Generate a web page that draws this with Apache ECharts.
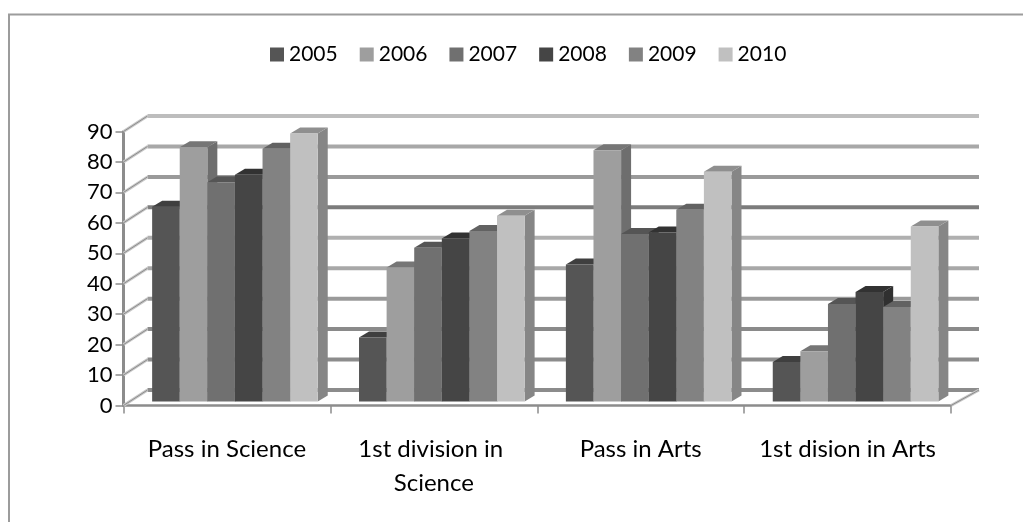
<!DOCTYPE html>
<html>
<head>
<meta charset="utf-8">
<style>
html, body { margin: 0; padding: 0; background: #fff; }
#chart { width: 1023px; height: 522px; }
</style>
<script src="https://cdn.jsdelivr.net/npm/echarts@6/dist/echarts.min.js"></script>
</head>
<body>
<div id="chart"></div>
<script>
var categories = ['Pass in Science', '1st division in Science', 'Pass in Arts', '1st dision in Arts'];
var years = ['2005', '2006', '2007', '2008', '2009', '2010'];
var v2005 = [64, 21, 45, 13];
var v2006 = [83.5, 44, 82.5, 16.5];
var v2007 = [72, 50.5, 55, 32];
var v2008 = [74.5, 53.5, 55.5, 36];
var v2009 = [83, 56, 63, 31];
var v2010 = [88, 61, 75.5, 57.5];
var yTicks = [0, 10, 20, 30, 40, 50, 60, 70, 80, 90];

var values = [v2005, v2006, v2007, v2008, v2009, v2010];
var colors = ['#555555', '#9e9e9e', '#707070', '#454545', '#828282', '#c0c0c0'];
var sideColors = ['#3c3c3c', '#6e6e6e', '#505050', '#303030', '#5c5c5c', '#868686'];
var topColors = ['#3f3f3f', '#767676', '#555555', '#323232', '#626262', '#8f8f8f'];
var gridTones = ['#8c8c8c', '#8c8c8c', '#8a8a8a', '#9a9a9a', '#a8a8a8', '#b0b0b0', '#7c7c7c', '#9a9a9a', '#a8a8a8', '#bdbdbd'];

var wallDx = 24, wallDy = -15.5;   // shift of the back wall
var wallExtra = 4;                 // back wall runs a bit past the front axis
var barDx = 8, barDy = -4;         // bars stand a little inside the floor
var depthDx = 10, depthDy = -6;
var barW = 27.6;

var chart = echarts.init(document.getElementById('chart'));

function renderWall(params, api) {
    var v = api.value(0);
    var i = params.dataIndex;
    var p = api.coord([0, v]);
    var size = api.size([1, 0]);
    var left = p[0] - size[0] / 2;
    var right = left + size[0] * categories.length;
    var y = p[1];
    var tone = gridTones[i];
    var children = [{
        type: 'polyline',
        shape: { points: [[left + wallDx, y + wallDy], [right + wallDx + wallExtra, y + wallDy]] },
        style: { stroke: tone, lineWidth: 4, fill: null }
    }, {
        type: 'polyline',
        shape: { points: [[left, y], [left + wallDx, y + wallDy]] },
        style: { stroke: '#c8c8c8', lineWidth: 3, fill: null }
    }, {
        type: 'polyline',
        shape: { points: [[left, y], [left + wallDx, y + wallDy]] },
        style: { stroke: '#8c8c8c', lineWidth: 1, fill: null }
    }];
    // floor edge on the right
    if (v === 0) {
        children.push({
            type: 'polyline',
            shape: { points: [[right, y], [right + wallDx + wallExtra, y + wallDy]] },
            style: { stroke: '#c8c8c8', lineWidth: 3, fill: null }
        }, {
            type: 'polyline',
            shape: { points: [[right, y], [right + wallDx + wallExtra, y + wallDy]] },
            style: { stroke: '#8c8c8c', lineWidth: 1, fill: null }
        });
    }
    return { type: 'group', children: children };
}

function renderBar(s) {
    return function (params, api) {
        var idx = api.value(0);
        var top = api.coord([idx, api.value(1)]);
        var base = api.coord([idx, 0]);
        var x = top[0] + (s - 3) * barW + barDx;
        var yT = top[1] + barDy;
        var yB = base[1] + barDy;
        return {
            type: 'group',
            children: [{
                type: 'polygon',
                shape: { points: [[x + barW, yT], [x + barW + depthDx, yT + depthDy], [x + barW + depthDx, yB + depthDy], [x + barW, yB]] },
                style: { fill: sideColors[s] }
            }, {
                type: 'polygon',
                shape: { points: [[x, yT], [x + depthDx, yT + depthDy], [x + barW + depthDx, yT + depthDy], [x + barW, yT]] },
                style: { fill: topColors[s] }
            }, {
                type: 'rect',
                shape: { x: x, y: yT, width: barW, height: yB - yT },
                style: { fill: colors[s] }
            }]
        };
    };
}

var series = [{
    type: 'custom',
    silent: true,
    z: 1,
    coordinateSystem: 'cartesian2d',
    renderItem: renderWall,
    encode: { x: 1, y: 0 },
    data: yTicks.map(function (t) { return [t, 0]; })
}];
years.forEach(function (year, s) {
    series.push({
        name: year,
        type: 'custom',
        z: 3,
        coordinateSystem: 'cartesian2d',
        itemStyle: { color: colors[s] },
        renderItem: renderBar(s),
        encode: { x: 0, y: 1 },
        data: values[s].map(function (v, i) { return [i, v]; })
    });
});

var option = {
    backgroundColor: '#fff',
    animation: false,
    textStyle: { fontFamily: 'Lato' },
    graphic: [{
        type: 'polyline',
        shape: { points: [[9, 522], [9, 14.5], [1023, 14.5]] },
        style: { fill: null, stroke: '#9c9c9c', lineWidth: 2 },
        silent: true
    }],
    legend: {
        data: years,
        top: 39,
        left: 265,
        icon: 'rect',
        itemWidth: 14,
        itemHeight: 14,
        itemGap: 22,
        textStyle: { fontFamily: 'Lato', fontSize: 21, color: '#000' }
    },
    grid: { left: 123.5, right: 72, top: 131.5, bottom: 116.5 },
    xAxis: {
        type: 'category',
        data: categories,
        axisLine: { lineStyle: { color: '#8c8c8c', width: 2.5 } },
        axisTick: { show: true, length: 8, alignWithLabel: false, lineStyle: { color: '#8c8c8c', width: 1.5 } },
        axisLabel: {
            interval: 0,
            margin: 27,
            width: 190,
            overflow: 'break',
            lineHeight: 34,
            fontFamily: 'Lato',
            fontSize: 24,
            color: '#000'
        }
    },
    yAxis: {
        type: 'value',
        min: 0,
        max: 90,
        interval: 10,
        splitLine: { show: false },
        axisLine: { show: true, lineStyle: { color: '#8c8c8c', width: 3 } },
        axisTick: { show: true, length: 8, lineStyle: { color: '#8c8c8c', width: 1.5 } },
        axisLabel: { margin: 11, fontFamily: 'Lato', fontSize: 22, color: '#000' }
    },
    series: series
};
chart.setOption(option);
</script>
</body>
</html>
